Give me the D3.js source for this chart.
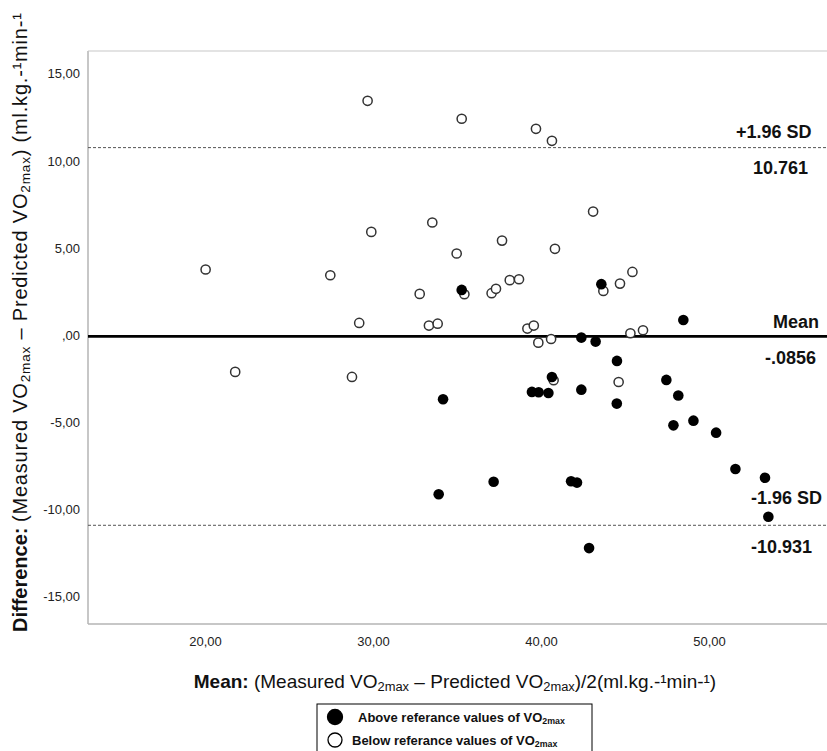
<!DOCTYPE html>
<html>
<head>
<meta charset="utf-8">
<script src="https://cdn.jsdelivr.net/npm/d3@7"></script>
<style>
  body { margin: 0; background: #fff; }
  text { font-family: "Liberation Sans", Arial, sans-serif; }
</style>
</head>
<body>
<div id="chart"></div>
<script>
// mean of the two measures vs their difference
const abovePoints = [
  [35.28, 2.59], [43.59, 2.92], [48.47, 0.86], [42.40, -0.15], [43.25, -0.38],
  [44.52, -1.49], [40.65, -2.41], [47.46, -2.58], [39.46, -3.27], [39.86, -3.29],
  [40.44, -3.33], [42.40, -3.14], [44.51, -3.94], [48.17, -3.48], [47.88, -5.19],
  [49.07, -4.92], [50.42, -5.61], [51.57, -7.70], [53.33, -8.20], [53.53, -10.44],
  [37.18, -8.43], [41.79, -8.40], [42.14, -8.48], [42.86, -12.24], [34.17, -3.69],
  [33.91, -9.15]
];
const belowPoints = [
  [29.68, 13.45], [35.28, 12.42], [29.90, 5.92], [33.53, 6.46], [34.98, 4.68],
  [20.04, 3.76], [27.46, 3.43], [32.78, 2.36], [29.18, 0.69], [33.33, 0.54],
  [33.85, 0.65], [39.70, 11.84], [40.65, 11.15], [43.10, 7.09], [37.68, 5.42],
  [40.83, 4.95], [45.44, 3.62], [44.70, 2.95], [43.71, 2.53], [35.44, 2.34],
  [37.06, 2.40], [37.32, 2.65], [38.14, 3.15], [38.69, 3.20], [39.19, 0.37],
  [39.57, 0.54], [45.32, 0.10], [46.07, 0.27], [39.84, -0.44], [40.60, -0.23],
  [40.75, -2.60], [44.62, -2.70], [21.80, -2.12], [28.75, -2.41]
];

const xTicks = [20, 30, 40, 50];
const yTicks = [-15, -10, -5, 0, 5, 10, 15];

const meanDiff = -0.0856;
const upperLimit = 10.761;
const lowerLimit = -10.931;
const lineNames = ["+1.96 SD", "Mean", "-1.96 SD"];
const lineValueLabels = ["10.761", "-.0856", "-10.931"];

const legendLabels = ["Above referance values of VO", "Below referance values of VO"];

let width = 827;
let height = 751;
let plot = { left: 88, top: 51, right: 827, bottom: 624 };

const svg = d3
  .select("#chart")
  .append("svg")
  .attr("width", width)
  .attr("height", height);

const xScale = d3
  .scaleLinear()
  .domain([13.04, 57.02])
  .range([plot.left, plot.right]);

const yScale = d3
  .scaleLinear()
  .domain([-16.6, 16.31])
  .range([plot.bottom, plot.top]);

const fmt = (d) => (d === 0 ? ",00" : d.toFixed(2).replace(".", ","));

// writes text made of plain / bold / subscript pieces
function richText(sel, parts, spacing) {
  parts.forEach((p) => {
    const t = sel.append("tspan").text(p.t);
    if (p.bold) t.attr("font-weight", "bold");
    else if (spacing) t.attr("letter-spacing", spacing);
    if (p.sub) t.attr("font-size", "68%").attr("dy", "0.22em");
    if (p.back) t.attr("dy", "-0.15em");
  });
}

// frame
svg.append("line")
  .attr("x1", plot.left).attr("x2", plot.left)
  .attr("y1", plot.top).attr("y2", plot.bottom)
  .attr("stroke", "#b4b4b4").attr("stroke-width", 1.5);
svg.append("line")
  .attr("x1", plot.left).attr("x2", plot.right)
  .attr("y1", plot.top).attr("y2", plot.top)
  .attr("stroke", "#c8c8c8").attr("stroke-width", 1.2);
svg.append("line")
  .attr("x1", plot.left).attr("x2", plot.right)
  .attr("y1", plot.bottom).attr("y2", plot.bottom)
  .attr("stroke", "#b4b4b4").attr("stroke-width", 1.5);

// axes (labels only)
const yAxis = svg
  .append("g")
  .attr("transform", `translate(${plot.left},0)`)
  .call(d3.axisLeft(yScale).tickValues(yTicks).tickFormat(fmt).tickSize(0).tickPadding(8));
const xAxis = svg
  .append("g")
  .attr("transform", `translate(0,${plot.bottom})`)
  .call(d3.axisBottom(xScale).tickValues(xTicks).tickFormat(fmt).tickSize(0).tickPadding(13));
[yAxis, xAxis].forEach((a) => {
  a.select(".domain").remove();
  a.selectAll("text")
    .attr("font-family", '"Liberation Sans", Arial, sans-serif')
    .attr("font-size", 13)
    .attr("fill", "#222");
});

// reference lines
[upperLimit, lowerLimit].forEach((v) => {
  svg.append("line")
    .attr("x1", plot.left).attr("x2", plot.right)
    .attr("y1", yScale(v)).attr("y2", yScale(v))
    .attr("stroke", "#555").attr("stroke-width", 1)
    .attr("stroke-dasharray", "3,2");
});
svg.append("line")
  .attr("x1", plot.left).attr("x2", plot.right)
  .attr("y1", yScale(meanDiff)).attr("y2", yScale(meanDiff))
  .attr("stroke", "#000").attr("stroke-width", 2.8);

// points
svg.selectAll(".below")
  .data(belowPoints)
  .enter()
  .append("circle")
  .attr("class", "below")
  .attr("cx", (d) => xScale(d[0]))
  .attr("cy", (d) => yScale(d[1]))
  .attr("r", 4.6)
  .attr("fill", "#fff")
  .attr("stroke", "#333")
  .attr("stroke-width", 1.5);

svg.selectAll(".above")
  .data(abovePoints)
  .enter()
  .append("circle")
  .attr("class", "above")
  .attr("cx", (d) => xScale(d[0]))
  .attr("cy", (d) => yScale(d[1]))
  .attr("r", 5.3)
  .attr("fill", "#000");

// labels at the right side of the lines
const lineValues = [upperLimit, meanDiff, lowerLimit];
const nameX = [736, 773, 751];
const nameDy = [-10, -8.5, -21];
const valueX = [753, 765, 751];
const valueDy = [26, 27.5, 28];
lineValues.forEach((v, i) => {
  svg.append("text")
    .attr("x", nameX[i])
    .attr("y", yScale(v) + nameDy[i])
    .attr("font-size", 18)
    .attr("font-weight", "bold")
    .attr("fill", "#111")
    .text(lineNames[i]);
  svg.append("text")
    .attr("x", valueX[i])
    .attr("y", yScale(v) + valueDy[i])
    .attr("font-size", 18)
    .attr("font-weight", "bold")
    .attr("fill", "#111")
    .text(lineValueLabels[i]);
});

// axis titles
const yTitle = svg.append("text")
  .attr("transform", `translate(27,632) rotate(-90)`)
  .attr("font-size", 20)
  .attr("fill", "#111");
richText(yTitle, [
  { t: "Difference: ", bold: true },
  { t: "(Measured VO" },
  { t: "2max", sub: true },
  { t: " – Predicted VO", back: true },
  { t: "2max", sub: true },
  { t: ") (ml.kg.-¹min-¹", back: true }
], 0.8);

const xTitle = svg.append("text")
  .attr("x", 455)
  .attr("y", 688)
  .attr("text-anchor", "middle")
  .attr("font-size", 19)
  .attr("fill", "#111");
richText(xTitle, [
  { t: "Mean: ", bold: true },
  { t: "(Measured VO" },
  { t: "2max", sub: true },
  { t: " – Predicted VO", back: true },
  { t: "2max", sub: true },
  { t: ")/2(ml.kg.-¹min-¹)", back: true }
]);

// legend
const legend = svg.append("g");
legend.append("rect")
  .attr("x", 317).attr("y", 704)
  .attr("width", 275).attr("height", 52)
  .attr("fill", "#fff")
  .attr("stroke", "#000")
  .attr("stroke-width", 1);
legendLabels.forEach((lab, i) => {
  legend.append("circle")
    .attr("cx", 335)
    .attr("cy", 717 + i * 23)
    .attr("r", i === 0 ? 7.5 : 7)
    .attr("fill", i === 0 ? "#000" : "#fff")
    .attr("stroke", "#000")
    .attr("stroke-width", 1.3);
  const t = legend.append("text")
    .attr("x", i === 0 ? 358 : 352)
    .attr("y", 722 + i * 23)
    .attr("font-size", 13)
    .attr("font-weight", "bold")
    .attr("fill", "#111");
  richText(t, [{ t: lab, bold: true }, { t: "2max", sub: true, bold: true }]);
});
</script>
</body>
</html>
